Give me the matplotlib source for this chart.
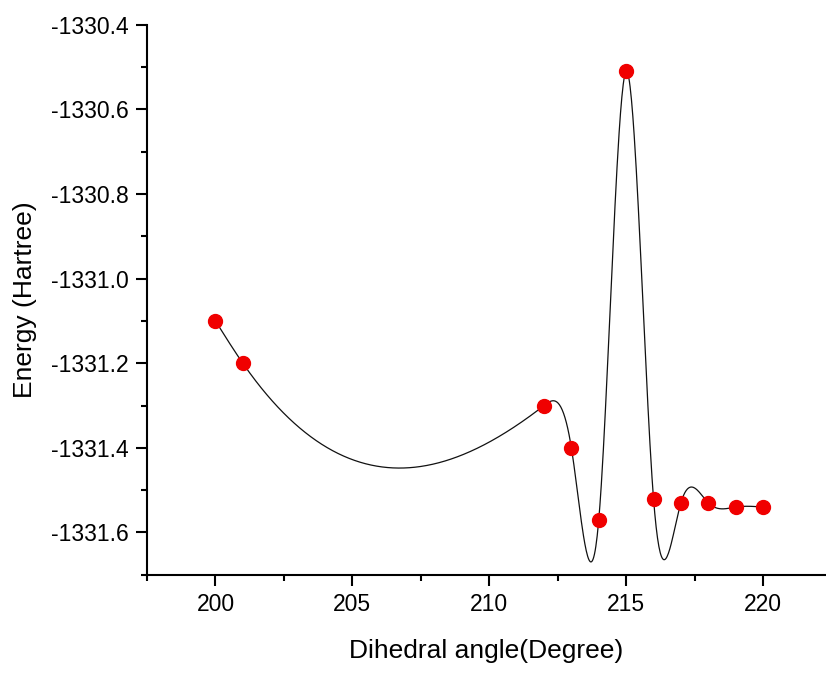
import numpy as np
import matplotlib
matplotlib.use('Agg')
import matplotlib.pyplot as plt
from matplotlib.ticker import MultipleLocator


# dihedral scan
angle = [200, 201, 212, 213, 214, 215, 216, 217, 218, 219, 220]
energy = [-1331.10, -1331.20, -1331.30, -1331.40, -1331.57, -1330.51,
          -1331.52, -1331.53, -1331.53, -1331.54, -1331.54]

x_ticks = [200, 205, 210, 215, 220]
y_ticks = [-1331.6, -1331.4, -1331.2, -1331.0, -1330.8, -1330.6, -1330.4]


def natural_spline(x, y, n=800):
    # plain natural cubic spline, like the connect-by-spline line in Origin
    x = np.asarray(x, dtype=float)
    y = np.asarray(y, dtype=float)
    k = len(x)
    h = np.diff(x)
    a = np.zeros((k, k))
    b = np.zeros(k)
    a[0, 0] = 1
    a[-1, -1] = 1
    for i in range(1, k - 1):
        a[i, i - 1] = h[i - 1]
        a[i, i] = 2 * (h[i - 1] + h[i])
        a[i, i + 1] = h[i]
        b[i] = 3 * ((y[i + 1] - y[i]) / h[i] - (y[i] - y[i - 1]) / h[i - 1])
    c = np.linalg.solve(a, b)
    xs = np.linspace(x[0], x[-1], n)
    idx = np.clip(np.searchsorted(x, xs) - 1, 0, k - 2)
    dx = xs - x[idx]
    hi = h[idx]
    bb = (y[idx + 1] - y[idx]) / hi - hi * (2 * c[idx] + c[idx + 1]) / 3
    dd = (c[idx + 1] - c[idx]) / (3 * hi)
    ys = y[idx] + bb * dx + c[idx] * dx ** 2 + dd * dx ** 3
    return xs, ys


plt.rcParams['font.family'] = ['Liberation Sans', 'DejaVu Sans']

fig = plt.figure(figsize=(8.26, 6.73), dpi=100)
ax = fig.add_axes([0.178, 0.146, 0.822, 0.817])

xs, ys = natural_spline(angle, energy)
ax.plot(xs, ys, color='#111111', linewidth=0.9, zorder=2)
ax.plot(angle, energy, 'o', color='#f00000', markersize=10, zorder=3)

ax.set_xlim(197.5, 222.3)
ax.set_ylim(-1331.7, -1330.4)
ax.set_xticks(x_ticks)
ax.set_yticks(y_ticks)
ax.xaxis.set_minor_locator(MultipleLocator(2.5))
ax.yaxis.set_minor_locator(MultipleLocator(0.1))
ax.set_yticklabels([f'{v:.1f}' for v in y_ticks])

for side in ['top', 'right']:
    ax.spines[side].set_visible(False)
for side in ['left', 'bottom']:
    ax.spines[side].set_linewidth(1.5)

ax.tick_params(which='major', direction='out', length=8, width=1.5,
               labelsize=16.5, pad=5)
ax.tick_params(which='minor', direction='out', length=4.5, width=1.5)

ax.set_xlabel('Dihedral angle(Degree)', fontsize=19, labelpad=17)
ax.set_ylabel('Energy (Hartree)', fontsize=19, labelpad=10)

fig.savefig('out.png', dpi=100)
